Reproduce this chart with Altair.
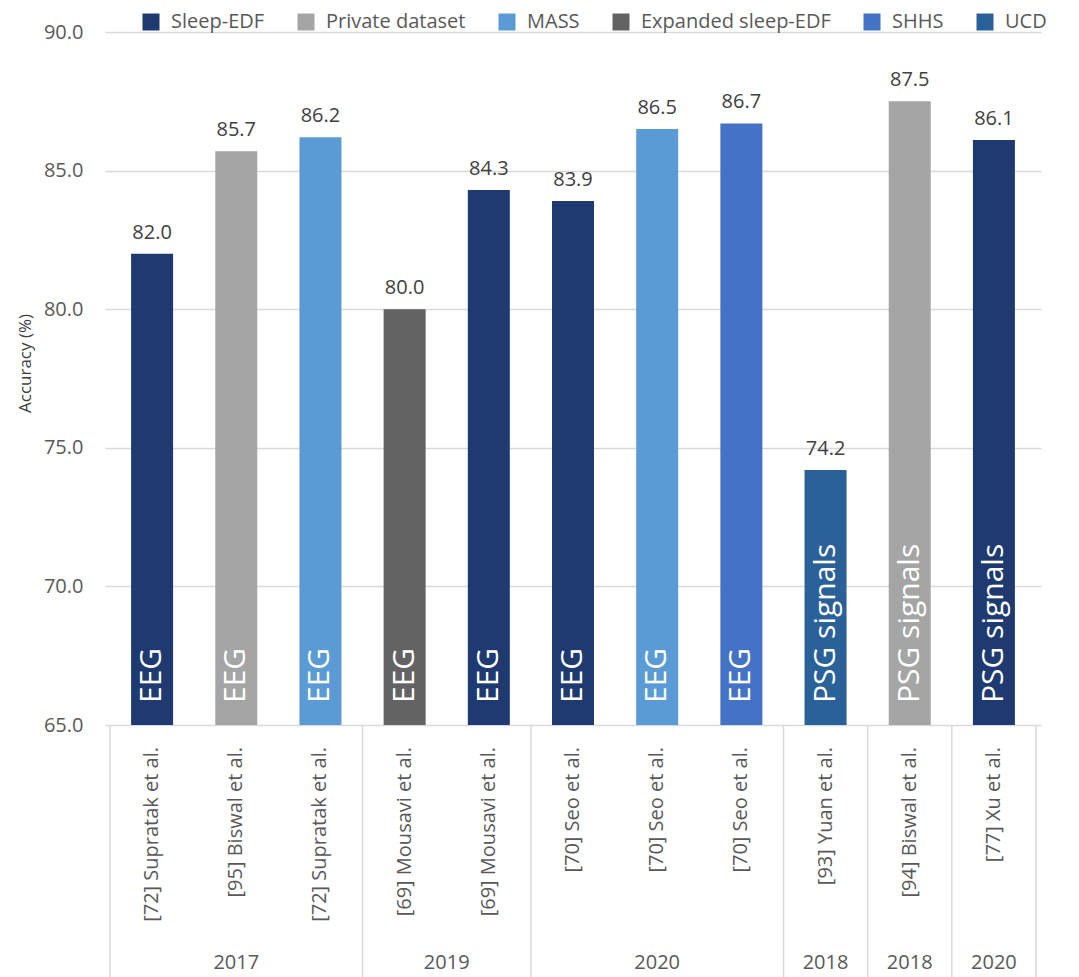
import altair as alt
import pandas as pd

authors = ["[72] Supratak et al.", "[95] Biswal et al.", "[72] Supratak et al.",
           "[69] Mousavi et al.", "[69] Mousavi et al.",
           "[70] Seo et al.", "[70] Seo et al.", "[70] Seo et al.",
           "[93] Yuan et al.", "[94] Biswal et al.", "[77] Xu et al."]
years = ["2017", "2017", "2017", "2019", "2019", "2020", "2020", "2020", "2018", "2018", "2020"]
group_ids = [0, 0, 0, 1, 1, 2, 2, 2, 3, 4, 5]
accuracy = [82.0, 85.7, 86.2, 80.0, 84.3, 83.9, 86.5, 86.7, 74.2, 87.5, 86.1]
datasets = ["Sleep-EDF", "Private dataset", "MASS", "Expanded sleep-EDF", "Sleep-EDF",
            "Sleep-EDF", "MASS", "SHHS", "UCD", "Private dataset", "Sleep-EDF"]
signals = ["EEG", "EEG", "EEG", "EEG", "EEG", "EEG", "EEG", "EEG",
           "PSG signals", "PSG signals", "PSG signals"]

legend_order = ["Sleep-EDF", "Private dataset", "MASS", "Expanded sleep-EDF", "SHHS", "UCD"]
legend_colors = ["#1E3A70", "#A5A5A5", "#5B9BD5", "#636363", "#4472C4", "#2B6199"]

FONT = "Open Sans"

df = pd.DataFrame({
    "idx": list(range(len(authors))),
    "author": authors,
    "year": years,
    "grp": group_ids,
    "acc": accuracy,
    "dataset": datasets,
    "signal": signals,
})

g = df.groupby("grp").agg(start=("idx", "min"), end=("idx", "max"), year=("year", "first")).reset_index()
g["center"] = (g["start"] + g["end"]) / 2.0
bounds = sorted(set(list(g["start"] - 0.5) + list(g["end"] + 0.5)))
bdf = pd.DataFrame({"b": bounds})

xs = alt.Scale(domain=[-0.5, len(authors) - 0.5], nice=False, zero=False)
ys = alt.Scale(domain=[65, 90], nice=False, zero=False)

base = alt.Chart(df)

bars = base.mark_bar(width=42).encode(
    x=alt.X("idx:Q", scale=xs, axis=None),
    y=alt.Y("acc:Q", scale=ys, title=None, axis=alt.Axis(
        values=[65, 70, 75, 80, 85, 90], format=".1f", title=None)),
    y2=alt.datum(65),
    color=alt.Color("dataset:N",
                    scale=alt.Scale(domain=legend_order, range=legend_colors),
                    legend=alt.Legend(orient="none", legendX=36, legendY=-20,
                                      direction="horizontal", title=None,
                                      symbolType="square", symbolSize=289,
                                      symbolStrokeWidth=0,
                                      labelFontSize=20, labelColor="#595959",
                                      labelFont=FONT, columnPadding=31,
                                      labelOffset=10, padding=0, labelLimit=0)),
)

values = base.mark_text(dy=-15, baseline="alphabetic", fontSize=20,
                        color="#404040", font=FONT).encode(
    x="idx:Q", y="acc:Q", text=alt.Text("acc:Q", format=".1f"))

sig = base.mark_text(angle=270, align="left", baseline="middle", dx=22,
                     fontSize=30, color="white", font=FONT).encode(
    x="idx:Q", y=alt.datum(65), text="signal:N")

auth = base.mark_text(angle=270, align="right", baseline="middle", dx=-22,
                      fontSize=20, color="#595959", font=FONT).encode(
    x="idx:Q", y=alt.datum(65), text="author:N")

yrs = alt.Chart(g).mark_text(dy=238, baseline="middle", fontSize=20,
                             color="#595959", font=FONT).encode(
    x="center:Q", y=alt.datum(65), text="year:N")

seps = alt.Chart(bdf).mark_rule(color="#D9D9D9", strokeWidth=1.5).encode(
    x="b:Q", y=alt.datum(65), y2=alt.value(1000))

chart = alt.layer(bars, values, sig, auth, yrs, seps).properties(
    width=936, height=693,
    title=alt.TitleParams("Accuracy (%)", orient="left", anchor="middle",
                          fontSize=17, fontWeight="normal", color="#404040",
                          font=FONT, offset=8, dx=15),
    autosize=alt.AutoSizeParams(type="none"),
    padding={"left": 97, "top": 24, "right": 30, "bottom": 252},
).configure(font=FONT).configure_view(strokeWidth=0).configure_axisY(
    labelFontSize=20, labelColor="#595959", labelPadding=22, labelFont=FONT,
    ticks=False, domain=False, grid=True, gridColor="#D9D9D9", gridWidth=1.5
).configure_title(fontSize=17, fontWeight="normal", color="#404040", font=FONT)

chart.save("out.html", embed_options={"renderer": "svg", "actions": False})
